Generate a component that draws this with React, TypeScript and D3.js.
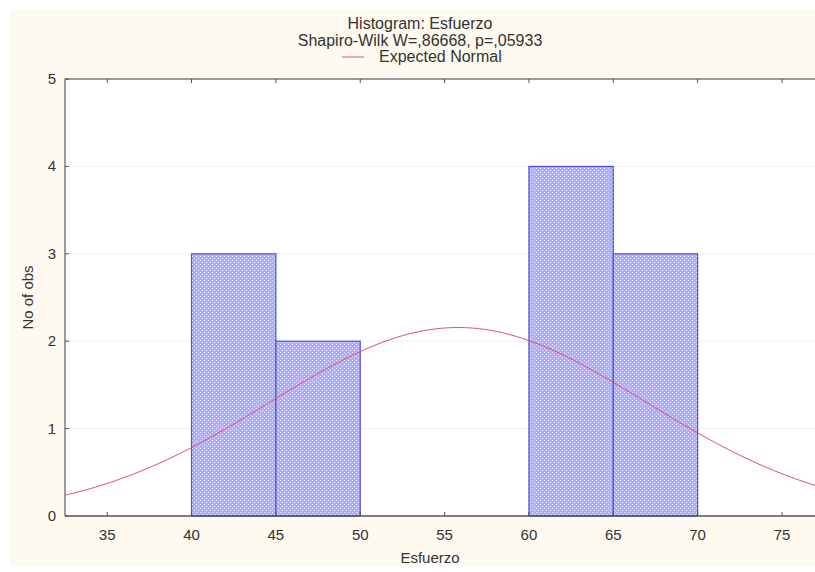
import React from "react";
import * as d3 from "d3";

// histogram bins (lower edge, upper edge, count)
const binStarts = [40, 45, 60, 65];
const binEnds = [45, 50, 65, 70];
const binCounts = [3, 2, 4, 3];

const xTicks = [35, 40, 45, 50, 55, 60, 65, 70, 75];
const yTicks = [0, 1, 2, 3, 4, 5];

// fitted normal (expected frequencies for bin width 5)
const normalMean = 55.8;
const normalSd = 11.1;
const nObs = 12;
const binWidth = 5;

const titleLines = ["Histogram: Esfuerzo", "Shapiro-Wilk W=,86668, p=,05933"];
const legendLabel = "Expected Normal";
const xTitle = "Esfuerzo";
const yTitle = "No of obs";

const W = 815;
const H = 572;
const left = 65;
const top = 79;
const bottom = 516;

const font = "'Liberation Sans', Arial, sans-serif";
const textColor = "#333333";

const App = () => {
  const x = d3.scaleLinear().domain([32.5, 77.5]).range([left, left + 45 * 16.87]);
  const y = d3.scaleLinear().domain([0, 5]).range([bottom, top]);

  const curveX = d3.range(32.5, 77.6, 0.25);
  const expected = (v: number) =>
    (nObs * binWidth) / (normalSd * Math.sqrt(2 * Math.PI)) *
    Math.exp(-0.5 * ((v - normalMean) / normalSd) ** 2);

  const line = d3
    .line<number>()
    .x((d) => x(d))
    .y((d) => y(expected(d)));

  const bars = binCounts.map((c, i) => ({ x0: binStarts[i], x1: binEnds[i], c }));

  return (
    <div style={{ position: "absolute", left: 0, top: 0 }}>
      <svg width={W} height={H} style={{ display: "block" }}>
        <defs>
          <pattern id="hatch" width="4" height="4" patternUnits="userSpaceOnUse">
            <rect width="4" height="4" fill="#afaef8" />
            <rect x="0" y="0" width="1" height="1" fill="#e2e2fe" />
            <rect x="2" y="2" width="1" height="1" fill="#e2e2fe" />
          </pattern>
          <clipPath id="plot">
            <rect x={left} y={top} width={W - left} height={bottom - top} />
          </clipPath>
        </defs>
        <rect x={10} y={10} width={W - 10} height={H - 16} fill="#fffaf0" />
        <rect x={left} y={top} width={W - left} height={bottom - top} fill="#ffffff" />

        {/* faint grid */}
        {yTicks.slice(1, -1).map((t) => (
          <line key={t} x1={left} x2={W} y1={y(t)} y2={y(t)} stroke="#f0f0ee" />
        ))}

        {bars.map((b, i) => (
          <rect
            key={i}
            x={x(b.x0)}
            y={y(b.c)}
            width={x(b.x1) - x(b.x0)}
            height={y(0) - y(b.c)}
            fill="url(#hatch)"
            stroke="#5050dc"
            strokeWidth={1.2}
          />
        ))}

        <path
          d={line(curveX) || ""}
          fill="none"
          stroke="#e0506e"
          strokeWidth={1}
          clipPath="url(#plot)"
        />

        {/* frame */}
        <line x1={left} x2={W} y1={top} y2={top} stroke="#7a7a7a" strokeWidth={1.5} />
        <line x1={left} x2={left} y1={top} y2={bottom} stroke="#7a7a7a" strokeWidth={1.5} />
        <line x1={left} x2={W} y1={bottom} y2={bottom} stroke="#555" strokeWidth={1.5} />

        {xTicks.map((t) => (
          <g key={t}>
            <line x1={x(t)} x2={x(t)} y1={bottom} y2={bottom - 4} stroke="#555" />
            <line x1={x(t)} x2={x(t)} y1={top} y2={top + 4} stroke="#555" />
            <text
              x={x(t)}
              y={540}
              textAnchor="middle"
              fontFamily={font}
              fontSize={15}
              fill={textColor}
            >
              {t}
            </text>
          </g>
        ))}

        {yTicks.map((t) => (
          <g key={t}>
            <line x1={left} x2={left + 4} y1={y(t)} y2={y(t)} stroke="#555" />
            <text
              x={56}
              y={y(t) + 5}
              textAnchor="end"
              fontFamily={font}
              fontSize={15}
              fill={textColor}
            >
              {t}
            </text>
          </g>
        ))}

        {titleLines.map((s, i) => (
          <text
            key={i}
            x={420}
            y={29 + i * 16.5}
            textAnchor="middle"
            fontFamily={font}
            fontSize={16}
            fill={textColor}
          >
            {s}
          </text>
        ))}

        <line x1={342} x2={364} y1={57} y2={57} stroke="#e0506e" strokeWidth={1} />
        <text x={379} y={62} fontFamily={font} fontSize={16} fill={textColor}>
          {legendLabel}
        </text>

        <text
          x={430}
          y={563}
          textAnchor="middle"
          fontFamily={font}
          fontSize={15}
          fill={textColor}
        >
          {xTitle}
        </text>
        <text
          transform={`translate(33,${(top + bottom) / 2}) rotate(-90)`}
          textAnchor="middle"
          fontFamily={font}
          fontSize={15}
          fill={textColor}
        >
          {yTitle}
        </text>
      </svg>
    </div>
  );
};

export default App;
